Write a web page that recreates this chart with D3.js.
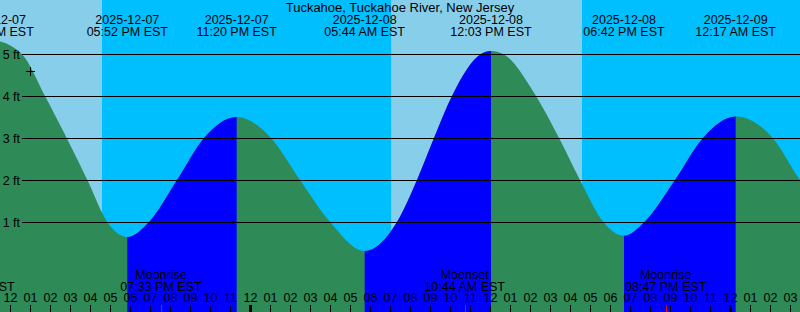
<!DOCTYPE html>
<html>
<head>
<meta charset="utf-8">
<script src="https://cdn.jsdelivr.net/npm/d3@7"></script>
<style>
  body { margin: 0; background: white; }
  svg { display: block; font-family: "Liberation Sans", Arial, sans-serif; font-size: 12.5px; }
</style>
</head>
<body>
<script>
// Highs and lows (EST), feet
const tideEventTimes = ["2025-12-07 05:30", "2025-12-07 11:12", "2025-12-07 17:52", "2025-12-07 23:20",
  "2025-12-08 05:44", "2025-12-08 12:03", "2025-12-08 18:42", "2025-12-09 00:17", "2025-12-09 06:50"];
const tideEventFeet = [0.5, 5.31, 0.64, 3.5, 0.31, 5.07, 0.67, 3.51, 0.6];

// levels
const tideSampleTimes = ["2025-12-07 12:35", "2025-12-07 13:45", "2025-12-07 14:50", "2025-12-07 15:52",
  "2025-12-07 16:52", "2025-12-07 18:57", "2025-12-07 20:21", "2025-12-07 21:42",
  "2025-12-08 01:03", "2025-12-08 02:30", "2025-12-08 04:00",
  "2025-12-08 07:21", "2025-12-08 08:21", "2025-12-08 09:12", "2025-12-08 10:06", "2025-12-08 11:33",
  "2025-12-08 12:39", "2025-12-08 14:18", "2025-12-08 15:27", "2025-12-08 16:30", "2025-12-08 17:40",
  "2025-12-08 19:43", "2025-12-08 21:15", "2025-12-08 22:39",
  "2025-12-09 02:08", "2025-12-09 03:30"];
const tideSampleFeet = [5.0, 4.0, 3.0, 2.0,
  1.0, 1.0, 2.0, 3.0,
  3.0, 2.0, 1.0,
  1.0, 2.0, 3.0, 4.0, 5.0,
  5.0, 4.0, 3.0, 2.0, 1.0,
  1.0, 2.0, 3.0,
  3.0, 2.0];

// sunrise / sunset, the window opens in daylight
const sunTimes = ["2025-12-07 16:35", "2025-12-08 07:05", "2025-12-08 16:35"];

const moonTimes = ["2025-12-07 10:13", "2025-12-07 19:33", "2025-12-08 10:44", "2025-12-08 20:47"];
const moonKinds = ["Moonset", "Moonrise", "Moonset", "Moonrise"];

const gridFeet = [1, 2, 3, 4, 5];
const markTime = "2025-12-07 13:00";
const markFeet = 4.59;

const title = "Tuckahoe, Tuckahoe River, New Jersey";
const startTime = "2025-12-07 11:30", endTime = "2025-12-09 03:30";

const parse = d3.timeParse("%Y-%m-%d %H:%M");
const width = 800, height = 312;

const svg = d3.select("body").append("svg")
  .attr("width", width)
  .attr("height", height);

const x = d3.scaleTime()
  .domain([parse(startTime), parse(endTime)])
  .range([0, width]);

const y = d3.scaleLinear()
  .domain([0, 5])
  .range([264, 54]);

// day / night bands
let edges = [parse(startTime)].concat(sunTimes.map(parse), [parse(endTime)]);
let bands = d3.pairs(edges).map((p, i) => ({ a: p[0], b: p[1], day: i % 2 === 0 }));

svg.selectAll("rect.band")
  .data(bands)
  .enter()
  .append("rect")
  .attr("class", "band")
  .attr("x", d => x(d.a))
  .attr("y", 0)
  .attr("width", d => x(d.b) - x(d.a))
  .attr("height", height)
  .attr("fill", d => d.day ? "#87ceeb" : "#00bfff");

// tide curve
const events = tideEventTimes.map((t, i) => ({ t: parse(t), feet: tideEventFeet[i] }));
const samples = tideSampleTimes.map((t, i) => ({ t: parse(t), feet: tideSampleFeet[i] }));
const curveData = events.concat(samples).sort((a, b) => a.t - b.t);

const area = d3.area()
  .x(d => x(d.t))
  .y0(height)
  .y1(d => y(d.feet))
  .curve(d3.curveMonotoneX);

// rising tide drawn in blue
const rising = d3.pairs(events).filter(p => p[1].feet > p[0].feet);

svg.append("clipPath")
  .attr("id", "rising")
  .selectAll("rect")
  .data(rising)
  .enter()
  .append("rect")
  .attr("x", d => x(d[0].t))
  .attr("y", 0)
  .attr("width", d => x(d[1].t) - x(d[0].t))
  .attr("height", height);

svg.append("path")
  .datum(curveData)
  .attr("d", area)
  .attr("fill", "#2e8b57");

svg.append("path")
  .datum(curveData)
  .attr("d", area)
  .attr("fill", "#0000ff")
  .attr("clip-path", "url(#rising)");

// feet grid
let yAxis = svg.append("g")
  .attr("transform", "translate(22,0)")
  .call(d3.axisLeft(y).tickValues(gridFeet).tickFormat(d => d + " ft").tickSize(-(width - 22)).tickPadding(2));
yAxis.select(".domain").remove();
yAxis.attr("font-size", null).attr("font-family", null);
yAxis.selectAll(".tick line").attr("stroke", "black");
yAxis.selectAll(".tick text").attr("fill", "black");

// hours along the bottom
let xAxis = svg.append("g")
  .attr("transform", `translate(0,${height})`)
  .call(d3.axisTop(x).ticks(d3.timeHour.every(1)).tickFormat(d3.timeFormat("%I")).tickSize(7).tickPadding(3));
xAxis.select(".domain").remove();
xAxis.attr("font-size", null).attr("font-family", null);
xAxis.selectAll(".tick line")
  .attr("stroke", "black")
  .attr("stroke-width", d => d.getHours() === 0 ? 3 : 1);
xAxis.selectAll(".tick text").attr("fill", "black");

// moon events
const moon = moonTimes.map((t, i) => ({ t: parse(t), kind: moonKinds[i] }));

svg.selectAll("line.moon")
  .data(moon)
  .enter()
  .append("line")
  .attr("class", "moon")
  .attr("x1", d => Math.round(x(d.t)) + 0.5)
  .attr("x2", d => Math.round(x(d.t)) + 0.5)
  .attr("y1", height - 7)
  .attr("y2", height)
  .attr("stroke", "red");

const timeFmt = d3.timeFormat("%I:%M %p EST");
const dateFmt = d3.timeFormat("%Y-%m-%d");

svg.selectAll("text.moonKind")
  .data(moon)
  .enter()
  .append("text")
  .attr("class", "moonKind")
  .attr("x", d => x(d.t))
  .attr("y", 278.5)
  .attr("text-anchor", "middle")
  .text(d => d.kind);

svg.selectAll("text.moonTime")
  .data(moon)
  .enter()
  .append("text")
  .attr("class", "moonTime")
  .attr("x", d => x(d.t))
  .attr("y", 291)
  .attr("text-anchor", "middle")
  .text(d => timeFmt(d.t));

// high / low labels on top
svg.selectAll("text.tideDate")
  .data(events)
  .enter()
  .append("text")
  .attr("class", "tideDate")
  .attr("x", d => x(d.t))
  .attr("y", 24)
  .attr("text-anchor", "middle")
  .text(d => dateFmt(d.t));

svg.selectAll("text.tideTime")
  .data(events)
  .enter()
  .append("text")
  .attr("class", "tideTime")
  .attr("x", d => x(d.t))
  .attr("y", 36)
  .attr("text-anchor", "middle")
  .text(d => timeFmt(d.t));

svg.append("text")
  .attr("x", width / 2)
  .attr("y", 12)
  .attr("text-anchor", "middle")
  .style("font-size", "13px")
  .text(title);

// the little cross
let mx = Math.round(x(parse(markTime))) + 0.5,
    my = Math.round(y(markFeet)) + 0.5;
svg.append("path")
  .attr("d", `M${mx - 4.5},${my}H${mx + 4.5}M${mx},${my - 4.5}V${my + 4.5}`)
  .attr("stroke", "black")
  .attr("fill", "none");
</script>
</body>
</html>
